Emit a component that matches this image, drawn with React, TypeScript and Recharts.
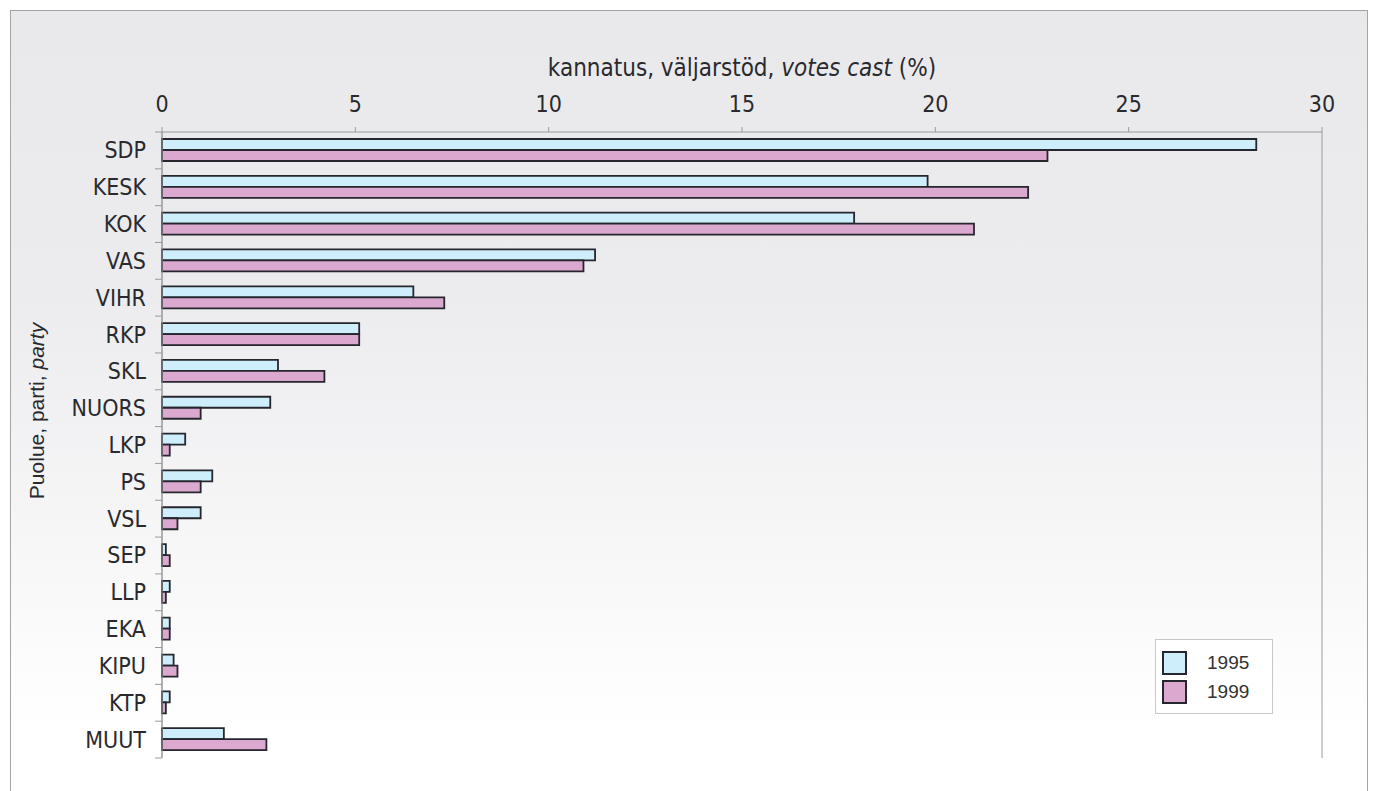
import { BarChart, Bar, XAxis, YAxis, CartesianGrid, Legend } from 'recharts';

const PARTIES = ['SDP', 'KESK', 'KOK', 'VAS', 'VIHR', 'RKP', 'SKL', 'NUORS', 'LKP', 'PS', 'VSL', 'SEP', 'LLP', 'EKA', 'KIPU', 'KTP', 'MUUT'];
const VOTES_1995 = [28.3, 19.8, 17.9, 11.2, 6.5, 5.1, 3.0, 2.8, 0.6, 1.3, 1.0, 0.1, 0.2, 0.2, 0.3, 0.2, 1.6];
const VOTES_1999 = [22.9, 22.4, 21.0, 10.9, 7.3, 5.1, 4.2, 1.0, 0.2, 1.0, 0.4, 0.2, 0.1, 0.2, 0.4, 0.1, 2.7];
const X_TICKS = [0, 5, 10, 15, 20, 25, 30];

const YEARS = [
  { key: 'v1995', name: '1995', color: '#cdeefa' },
  { key: 'v1999', name: '1999', color: '#dba8cf' },
];

const data = PARTIES.map((party, i) => ({
  party,
  v1995: VOTES_1995[i],
  v1999: VOTES_1999[i],
}));

const NARROW = '"Liberation Sans Narrow", "DejaVu Sans Condensed", "Arial Narrow", sans-serif';
const REGULAR = '"Liberation Sans", Arial, sans-serif';
const TEXT = '#2a2a2e';
const LINE = '#9a9a9e';
const BAR_STROKE = '#26262e';

// plot is 132..758 tall, 17 rows
const BAND = (758 - 132) / PARTIES.length;

function PartyTick({ x, y, payload, index }: any) {
  return (
    <g>
      <text x={x - 16} y={y} dy={8} textAnchor="end" fill={TEXT} fontSize={23} fontFamily={NARROW}>
        {payload.value}
      </text>
      <line x1={x - 7} x2={x} y1={y + BAND / 2} y2={y + BAND / 2} stroke={LINE} />
      {index === 0 && <line x1={x - 7} x2={x} y1={y - BAND / 2} y2={y - BAND / 2} stroke={LINE} />}
    </g>
  );
}

function YearLegend() {
  return (
    <div
      style={{
        width: 118,
        height: 75,
        boxSizing: 'border-box',
        border: '1px solid #c8c8cc',
        background: '#fff',
        padding: '8px 0 0 6px',
      }}
    >
      {YEARS.map(y => (
        <div key={y.key} style={{ display: 'flex', alignItems: 'center', height: 29 }}>
          <span
            style={{
              width: 25,
              height: 24,
              boxSizing: 'border-box',
              border: `2px solid ${BAR_STROKE}`,
              background: y.color,
            }}
          />
          <span style={{ marginLeft: 20, fontFamily: REGULAR, fontSize: 19, color: '#333' }}>{y.name}</span>
        </div>
      ))}
    </div>
  );
}

export default function App() {
  return (
    <div style={{ position: 'fixed', left: 0, top: 0, width: 1373, height: 791, background: '#fff', overflow: 'hidden' }}>
      <div
        style={{
          position: 'absolute',
          left: 10,
          top: 10,
          width: 1358,
          height: 800,
          boxSizing: 'border-box',
          border: '1.5px solid #a4a4a8',
          background: 'linear-gradient(#e9e9ec 0%, #ececef 35%, #f6f6f7 65%, #ffffff 90%)',
        }}
      />
      <div
        style={{
          position: 'absolute',
          left: 742,
          top: 54,
          transform: 'translateX(-50%)',
          whiteSpace: 'nowrap',
          fontFamily: NARROW,
          fontSize: 24,
          lineHeight: '28px',
          color: TEXT,
        }}
      >
        kannatus, väljarstöd, <i>votes cast</i> (%)
      </div>
      <div
        style={{
          position: 'absolute',
          left: 37,
          top: 411,
          transform: 'translate(-50%, -50%) rotate(-90deg)',
          whiteSpace: 'nowrap',
          fontFamily: REGULAR,
          fontSize: 21,
          color: TEXT,
        }}
      >
        Puolue, parti, <i>party</i>
      </div>
      <div style={{ position: 'absolute', left: 0, top: 0 }}>
        <BarChart
          width={1373}
          height={791}
          data={data}
          layout="vertical"
          margin={{ top: 92, right: 51, bottom: 33, left: 12 }}
          barGap={0}
          barSize={11}
        >
          <CartesianGrid horizontal={false} stroke={LINE} strokeWidth={1} />
          <XAxis
            xAxisId="top"
            type="number"
            orientation="top"
            domain={[0, 30]}
            ticks={X_TICKS}
            height={40}
            tickSize={5}
            tickMargin={15}
            stroke={LINE}
            tick={{ fill: TEXT, fontSize: 23, fontFamily: NARROW }}
          />
          <XAxis
            xAxisId="bottom"
            type="number"
            orientation="bottom"
            domain={[0, 30]}
            height={0}
            tick={false}
            tickLine={false}
            stroke={LINE}
          />
          <YAxis
            type="category"
            dataKey="party"
            width={150}
            tickSize={0}
            tickMargin={0}
            tickLine={false}
            stroke={LINE}
            tick={<PartyTick />}
            interval={0}
          />
          <Legend
            layout="horizontal"
            verticalAlign="middle"
            align="center"
            content={<YearLegend />}
            wrapperStyle={{ left: 1155, top: 639, width: 118, height: 75 }}
          />
          {YEARS.map(y => (
            <Bar
              key={y.key}
              xAxisId="top"
              dataKey={y.key}
              name={y.name}
              fill={y.color}
              stroke={BAR_STROKE}
              strokeWidth={1.8}
              isAnimationActive={false}
            />
          ))}
        </BarChart>
      </div>
    </div>
  );
}
